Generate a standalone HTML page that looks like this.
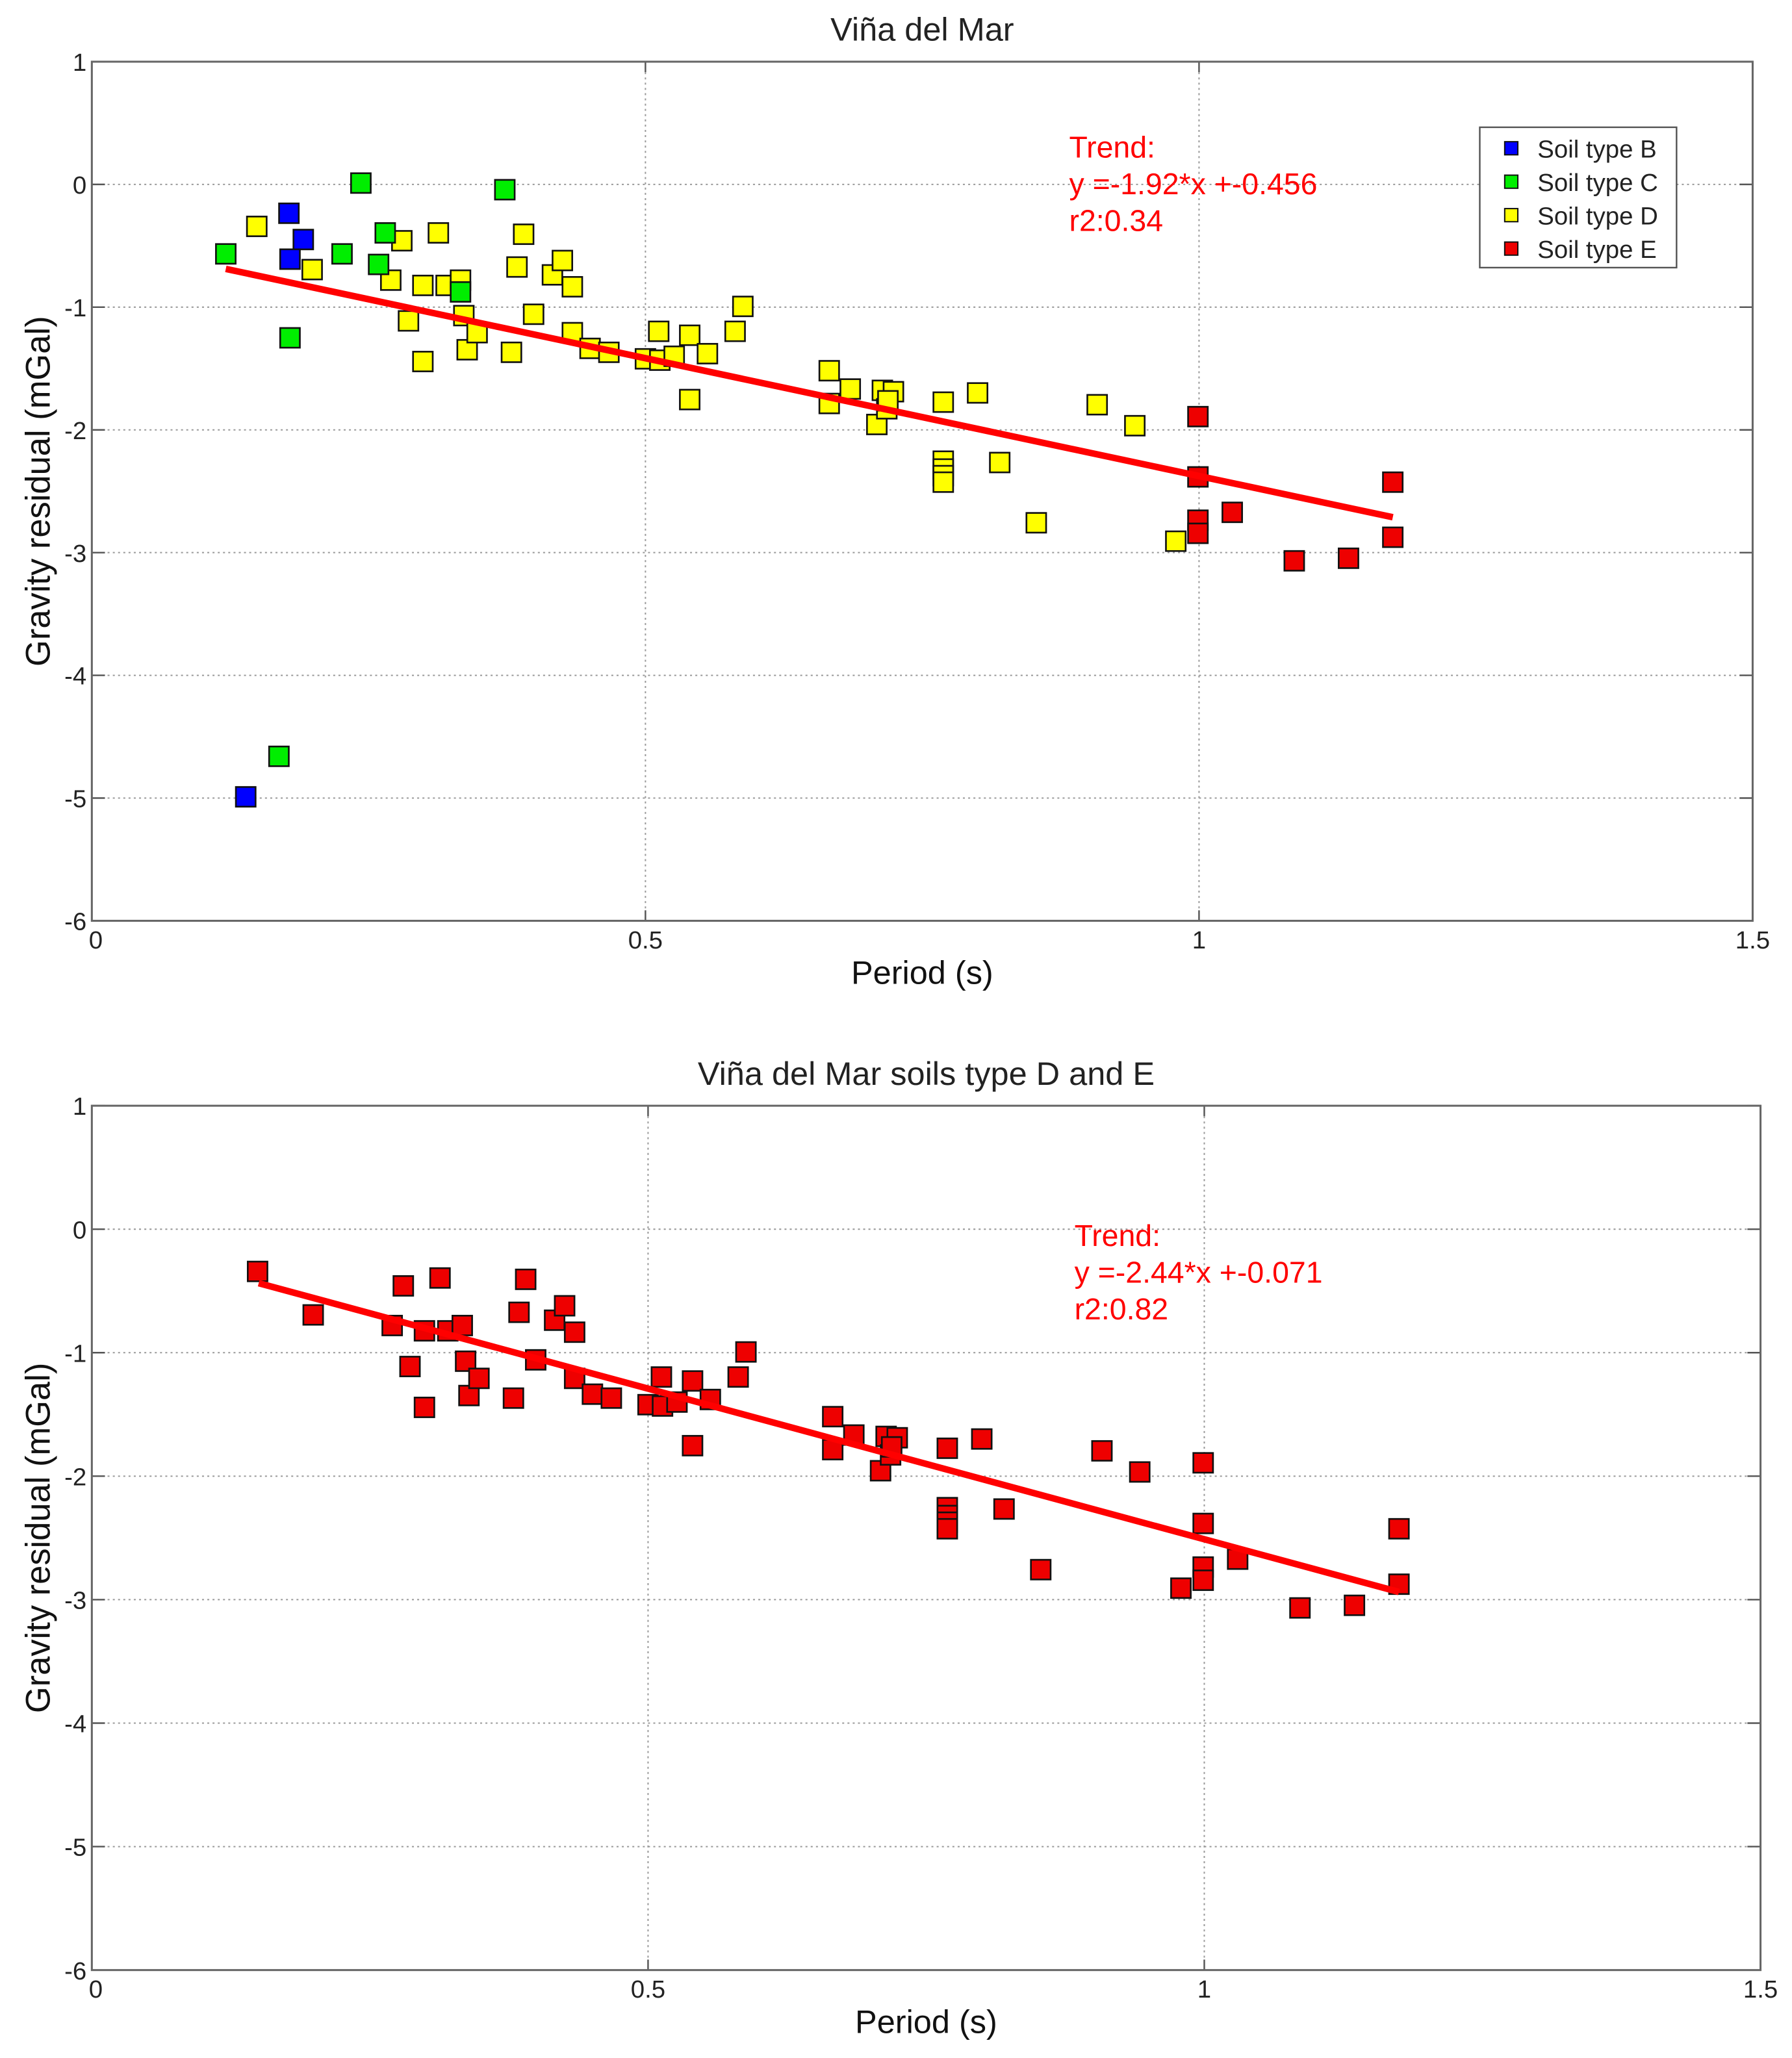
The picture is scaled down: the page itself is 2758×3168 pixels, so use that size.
<!DOCTYPE html>
<html><head><meta charset="utf-8"><style>
html,body{margin:0;padding:0;background:#fff}
svg{display:block}
text{font-family:"Liberation Sans",Arial,sans-serif}
</style></head><body>
<svg id="fig" width="2758" height="3168" viewBox="0 0 1366 1569" xmlns="http://www.w3.org/2000/svg"></svg>
<script>
// ---- data ----
const blueX=[0.178,0.191,0.179,0.139];
const blueY=[-0.235,-0.449,-0.609,-4.99];
const greenX=[0.121,0.243,0.265,0.259,0.226,0.333,0.373,0.179,0.169];
const greenY=[-0.566,0.011,-0.395,-0.652,-0.566,-0.876,-0.043,-1.25,-4.66];
const yellowX=[0.149,0.199,0.280,0.270,0.313,0.299,0.286,0.299,0.320,0.333,0.336,0.339,0.348,0.379,0.384,0.390,0.399,0.416,0.425,0.434,0.434,0.450,0.467,0.500,0.513,0.512,0.526,0.540,0.540,0.556,0.581,0.588,0.666,0.666,0.685,0.709,0.714,0.724,0.718,0.719,0.769,0.769,0.769,0.769,0.769,0.800,0.820,0.853,0.908,0.942,0.979];
const yellowY=[-0.342,-0.694,-0.459,-0.780,-0.395,-0.823,-1.112,-1.443,-0.823,-0.780,-1.069,-1.347,-1.208,-1.368,-0.673,-0.406,-1.058,-0.737,-0.620,-0.834,-1.208,-1.336,-1.368,-1.421,-1.432,-1.197,-1.400,-1.229,-1.753,-1.379,-1.197,-0.994,-1.518,-1.785,-1.667,-1.956,-1.678,-1.689,-1.828,-1.763,-1.774,-2.255,-2.319,-2.373,-2.426,-1.699,-2.266,-2.757,-1.795,-1.966,-2.907];
const redX=[0.999,0.999,0.999,0.999,1.030,1.086,1.135,1.175,1.175];
const redY=[-1.892,-2.383,-2.736,-2.843,-2.672,-3.067,-3.046,-2.426,-2.875];
const trend1=[-1.92,-0.456], trend1Range=[0.121,1.175];
const trend2=[-2.44,-0.071], trend2Range=[0.150,1.175];
const xTicks=[0,0.5,1,1.5], xTickLabels=["0","0.5","1","1.5"];
const yTicks=[1,0,-1,-2,-3,-4,-5,-6], yTickLabels=["1","0","-1","-2","-3","-4","-5","-6"];

const NS="http://www.w3.org/2000/svg";
const svg=document.getElementById('fig');
function mk(tag,attrs,parent){const e=document.createElementNS(NS,tag);for(const k in attrs)e.setAttribute(k,attrs[k]);(parent||svg).appendChild(e);return e;}

function panel(box,title,idx){
  const g=mk('g',{});
  
  
  const sx=v=>box.x0+(v-0)/(1.5)*(box.x1-box.x0);
  const sy=v=>box.y0+(1-v)/7*(box.y1-box.y0);
  mk('rect',{x:box.x0,y:box.y0,width:box.x1-box.x0,height:box.y1-box.y0,fill:'#fff',stroke:'none'},g);
  xTicks.forEach((t,i)=>{
    if(i>0&&i<xTicks.length-1){const l=mk('line',{x1:sx(t),x2:sx(t),y1:box.y0,y2:box.y1,stroke:'#999','stroke-width':1,'stroke-dasharray':'1.5,2.5'},g);
    }
    mk('line',{x1:sx(t),x2:sx(t),y1:box.y1,y2:box.y1-8,stroke:'#555','stroke-width':1.2},g);
    mk('line',{x1:sx(t),x2:sx(t),y1:box.y0,y2:box.y0+8,stroke:'#555','stroke-width':1.2},g);
    const tx=mk('text',{x:sx(t)+(i==0?3:0),y:box.y1+21,'font-size':19,'text-anchor':'middle',fill:'#222'},g);
    tx.textContent=xTickLabels[i];
    
  });
  yTicks.forEach((t,i)=>{
    if(i>0&&i<yTicks.length-1){const l=mk('line',{x1:box.x0,x2:box.x1,y1:sy(t),y2:sy(t),stroke:'#999','stroke-width':1,'stroke-dasharray':'1.5,2.5'},g);
    }
    mk('line',{x1:box.x0,x2:box.x0+10,y1:sy(t),y2:sy(t),stroke:'#555','stroke-width':1.2},g);
    mk('line',{x1:box.x1,x2:box.x1-10,y1:sy(t),y2:sy(t),stroke:'#555','stroke-width':1.2},g);
    const tx=mk('text',{x:box.x0-4,y:sy(t)+7,'font-size':19,'text-anchor':'end',fill:'#222'},g);
    tx.textContent=yTickLabels[i];
    
  });
  const fr=mk('rect',{x:box.x0,y:box.y0,width:box.x1-box.x0,height:box.y1-box.y0,fill:'none',stroke:'#666','stroke-width':1.5},g);
  
  const tt=mk('text',{x:(box.x0+box.x1)/2,y:box.y0-16,'font-size':25,'text-anchor':'middle',fill:'#222'},g);
  tt.textContent=title;
  const xl=mk('text',{x:(box.x0+box.x1)/2,y:box.y1+48,'font-size':25,'text-anchor':'middle',fill:'#111'},g);
  xl.textContent='Period (s)';
  const cy=(box.y0+box.y1)/2;
  const yl=mk('text',{x:38,y:cy,'font-size':26,'text-anchor':'middle',fill:'#111',transform:'rotate(-90 38 '+cy+')'},g);
  yl.textContent='Gravity residual (mGal)';
  return {g,sx,sy};
}

function drawPoints(p,X,Y,color,name){
  for(let i=0;i<X.length;i++){
    const r=mk('rect',{x:p.sx(X[i])-7.5,y:p.sy(Y[i])-7.5,width:15,height:15,fill:color,stroke:'#111','stroke-width':1.3},p.g);
    
    
  }
}
function drawTrend(p,coef,range){
  const l=mk('line',{x1:p.sx(range[0]),y1:p.sy(coef[0]*range[0]+coef[1]),x2:p.sx(range[1]),y2:p.sy(coef[0]*range[1]+coef[1]),stroke:'#f00','stroke-width':5},p.g);
  
  
}
function trendText(p,x,y,lines){
  lines.forEach((s,i)=>{const t=mk('text',{x:x,y:y+i*28,'font-size':23,fill:'#f00'},p.g);t.textContent=s;
  });
}

const p1=panel({x0:70,x1:1336,y0:47,y1:702},'Viña del Mar',1);
drawPoints(p1,yellowX,yellowY,'#ffff00','point-soil-d');
drawPoints(p1,greenX,greenY,'#00ee00','point-soil-c');
drawPoints(p1,blueX,blueY,'#0000ff','point-soil-b');
drawPoints(p1,redX,redY,'#ee0000','point-soil-e');
drawTrend(p1,trend1,trend1Range);
trendText(p1,815,120,['Trend:','y =-1.92*x +-0.456','r2:0.34']);
const lg=mk('g',{},p1.g);


mk('rect',{x:1128,y:97,width:150,height:107,fill:'#fff',stroke:'#555','stroke-width':1.2},lg);
const legNames=['Soil type B','Soil type C','Soil type D','Soil type E'];
const legCols=['#0000ff','#00ee00','#ffff00','#ee0000'];
legNames.forEach((n,i)=>{
  const e=mk('g',{},lg);
  
  
  mk('rect',{x:1147,y:108+i*25.5,width:10,height:10,fill:legCols[i],stroke:'#111','stroke-width':1},e);
  const t=mk('text',{x:1172,y:120+i*25.5,'font-size':19,fill:'#222'},e);t.textContent=n;
});

const p2=panel({x0:70,x1:1342,y0:843,y1:1502},'Viña del Mar soils type D and E',2);
drawPoints(p2,yellowX,yellowY,'#ee0000','point-soil-d');
drawPoints(p2,redX,redY,'#ee0000','point-soil-e');
drawTrend(p2,trend2,trend2Range);
trendText(p2,819,950,['Trend:','y =-2.44*x +-0.071','r2:0.82']);
</script>
</body></html>
